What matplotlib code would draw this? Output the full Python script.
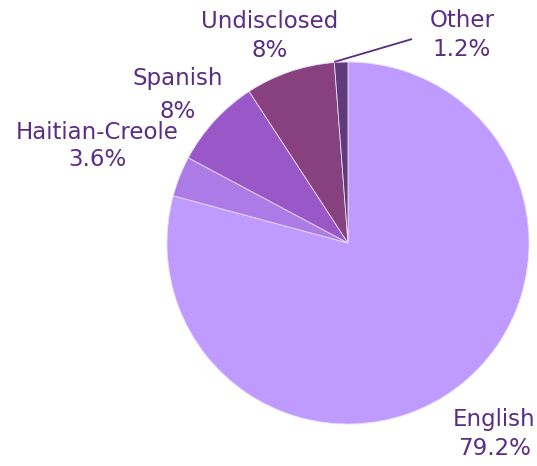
import matplotlib
matplotlib.use("Agg")
import matplotlib.pyplot as plt
import numpy as np

categories = ["English", "Haitian-Creole", "Spanish", "Undisclosed", "Other"]
values = [79.2, 3.6, 8, 8, 1.2]
value_labels = ["79.2%", "3.6%", "8%", "8%", "1.2%"]
colors = ["#C09BFF", "#AC7BE6", "#9957C8", "#87417F", "#5F3A7D"]
text_color = "#5A2D82"

W, H = 537, 466
fig = plt.figure(figsize=(W / 100, H / 100), dpi=100)
cx, cy, r = 348, 243, 181
ax = fig.add_axes([(cx - r) / W, (H - cy - r) / H, 2 * r / W, 2 * r / H])

ax.pie(values, colors=colors, startangle=90, counterclock=False,
       wedgeprops=dict(edgecolor="#e8dcf5", linewidth=0.6))
ax.set_xlim(-1, 1)
ax.set_ylim(-1, 1)
ax.set_aspect("equal")
ax.axis("off")

# label positions in pie units (centre of two-line block)
label_pos = {
    "English": (0.807, -1.055),
    "Haitian-Creole": (-1.387, 0.536),
    "Spanish": (-0.939, 0.818),
    "Undisclosed": (-0.431, 1.144),
    "Other": (0.63, 1.149),
}
gaps = {"Spanish": 1.57, "Haitian-Creole": 1.22}
fam = ["DejaVu Sans"]
for cat, lab in zip(categories, value_labels):
    x, y = label_pos[cat]
    ax.text(x, y, f"{cat}\n{lab}", ha="center", va="center", color=text_color,
            fontsize=16.5, family=fam, linespacing=gaps.get(cat, 1.31),
            clip_on=False)

# leader line for Other
ax.plot([-0.077, 0.354], [1.0, 1.127], color=text_color, lw=1.3, clip_on=False,
        solid_capstyle="butt")

fig.savefig("out.png", dpi=100)
